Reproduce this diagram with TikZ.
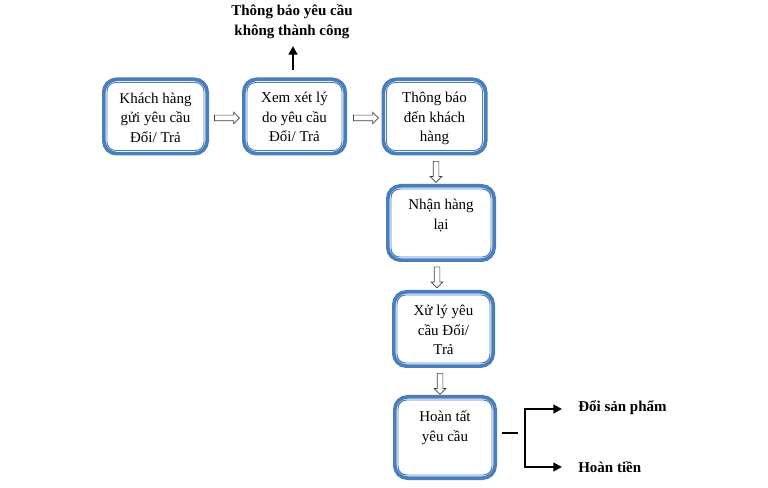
\documentclass[tikz,border=0pt]{standalone}
\usepackage{fontspec}
\setmainfont{Liberation Serif}
\usetikzlibrary{shapes.arrows,arrows.meta}
\definecolor{boxblue}{HTML}{4A7EBB}
\definecolor{arrgray}{HTML}{404040}
\newcommand{\fs}{\fontsize{11.25pt}{14.75pt}\selectfont}
\newcommand{\st}{\rule{0pt}{11.5pt}}
\begin{document}
\begin{tikzpicture}[x=0.75pt,y=-0.75pt,
  box/.style 2 args={draw=boxblue, line width=2.8pt, rounded corners=9.5pt,
    minimum width=#1*0.75pt-2.8pt, minimum height=#2*0.75pt-2.8pt, inner sep=0pt},
  innerline/.style={draw=boxblue, line width=0.7pt, rounded corners=6.5pt},
  txt/.style={anchor=north, align=center, inner sep=0pt, font=\fs},
  harrow/.style={single arrow, draw=arrgray, fill=white, line width=0.5pt,
    minimum height=25*0.75pt, inner sep=2.5*0.75pt, single arrow head extend=3*0.75pt},
  varrow/.style={harrow, rotate=-90, minimum height=21*0.75pt},
  blackarr/.style={line width=1.8pt, -{Triangle[length=6.5pt,width=6.5pt]}},
  lbl/.style={font=\fs\bfseries, inner sep=0pt, align=center}
]
\useasboundingbox (0,0) rectangle (768,488);

% boxes
\node[box={107}{78}] (b1) at (155.5,116.5) {};
\node[box={105}{78}] (b2) at (294.5,116.5) {};
\node[box={106}{78}] (b3) at (434.5,116.5) {};
\node[box={110}{78}] (b4) at (441,223) {};
\node[box={103}{78}] (b5) at (443.5,329) {};
\node[box={104}{85}] (b6) at (445,437.5) {};

\foreach \b in {b1,b2,b3,b4,b5,b6}{
  \draw[innerline] ([shift={(5,5)}]\b.north west) rectangle ([shift={(-5,-5)}]\b.south east);
}

% texts
\node[txt] (t1) at (155.5,87.5) {\st Khách hàng\\gửi yêu cầu\\Đổi/ Trả};
\node[txt] (t2) at (294.5,87) {\st Xem xét lý\\do yêu cầu\\Đổi/ Trả};
\node[txt] (t3) at (434.5,87) {\st Thông báo\\đến khách\\hàng};
\node[txt] (t4) at (441,194) {\st Nhận hàng\\lại};
\node[txt] (t5) at (443.5,300) {\st Xử lý yêu\\cầu Đổi/\\Trả};
\node[txt] (t6) at (445,406) {\st Hoàn tất\\yêu cầu};

% hollow arrows
\node[harrow] (a1) at (225.5,118) {};
\node[harrow] (a2) at (364.5,118) {};
\node[varrow] (a3) at (436,170.5) {};
\node[varrow] (a4) at (437,276) {};
\node[varrow] (a5) at (440,382.5) {};

% failure message
\node[lbl] (msg) at (292,21.5) {Thông báo yêu cầu\\không thành công};
\coordinate (u0) at (293,70);
\coordinate (u1) at (293,46);
\draw[blackarr] (u0) -- (u1);

% outcomes
\coordinate (d1) at (502,433);
\coordinate (d2) at (518,433);
\draw[line width=1.9pt] (d1) -- (d2);
\coordinate (bm) at (525,438);
\node[lbl, anchor=west] (o1) at (578,408) {Đổi sản phẩm};
\node[lbl, anchor=west] (o2) at (578,467) {Hoàn tiền};
\coordinate (e1) at (562,409);
\coordinate (e2) at (562,467);
\draw[blackarr, line width=1.5pt] (bm) |- (e1);
\draw[blackarr, line width=1.5pt] (bm) |- (e2);
\end{tikzpicture}
\end{document}
